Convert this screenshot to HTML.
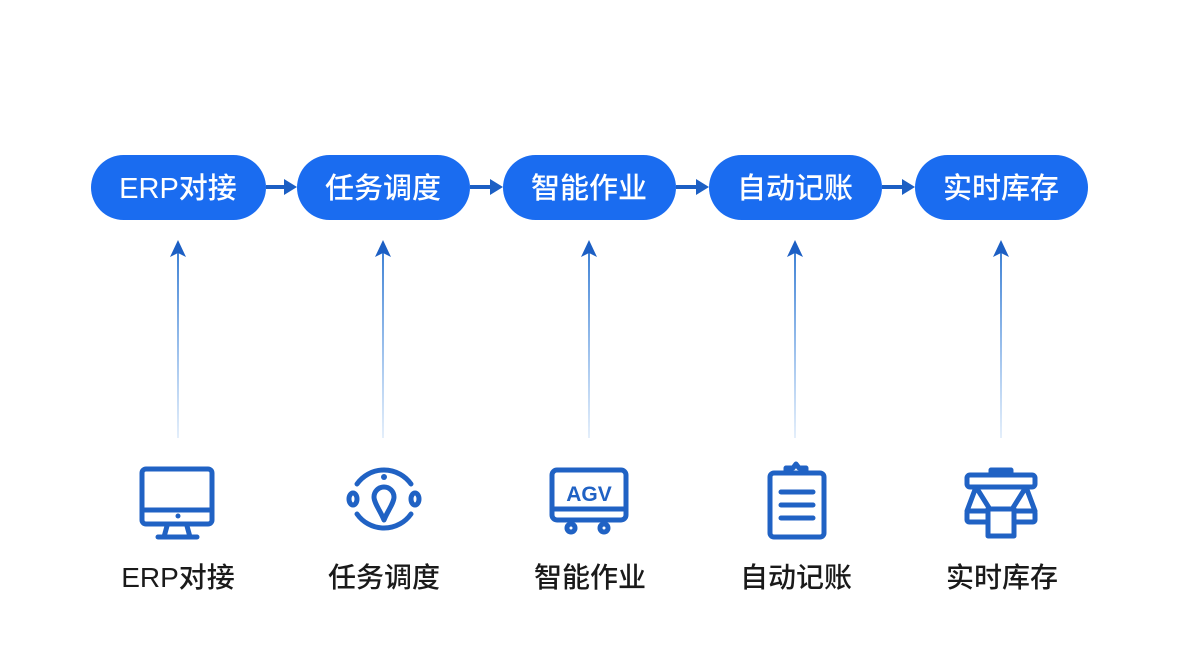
<!DOCTYPE html>
<html><head><meta charset="utf-8"><style>
body{margin:0;background:#fff;}
svg{display:block}
.p{font-family:"Liberation Sans","Noto Sans CJK SC",sans-serif;font-size:29px;font-weight:500;fill:#fff;text-anchor:middle}
.l{font-family:"Liberation Sans","Noto Sans CJK SC",sans-serif;font-size:28px;font-weight:500;fill:#1a1a1a;text-anchor:middle}
.i{fill:none;stroke:#2062c4;stroke-width:5;stroke-linejoin:round;stroke-linecap:round}
</style></head><body>
<svg width="1179" height="662" viewBox="0 0 1179 662">
<defs><linearGradient id="g" x1="0" y1="1" x2="0" y2="0"><stop offset="0" stop-color="#4a90e2" stop-opacity="0.15"/><stop offset="1" stop-color="#2a74d0" stop-opacity="0.9"/></linearGradient></defs>
<g fill="#1a6cf0">
<rect x="91" y="155" width="175" height="65" rx="32.5"/>
<rect x="297" y="155" width="173" height="65" rx="32.5"/>
<rect x="503" y="155" width="173" height="65" rx="32.5"/>
<rect x="709" y="155" width="173" height="65" rx="32.5"/>
<rect x="915" y="155" width="173" height="65" rx="32.5"/>
</g>
<text class="p" x="178" y="198">ERP对接</text>
<text class="p" x="383" y="198">任务调度</text>
<text class="p" x="589" y="198">智能作业</text>
<text class="p" x="795" y="198">自动记账</text>
<text class="p" x="1001" y="198">实时库存</text>
<g fill="#1c5fc4" stroke="#1c5fc4" stroke-width="4">
<line x1="266" y1="187" x2="285" y2="187"/><polygon stroke="none" points="284,179 297,187 284,195"/>
<line x1="470" y1="187" x2="491" y2="187"/><polygon stroke="none" points="490,179 503,187 490,195"/>
<line x1="676" y1="187" x2="697" y2="187"/><polygon stroke="none" points="696,179 709,187 696,195"/>
<line x1="882" y1="187" x2="903" y2="187"/><polygon stroke="none" points="902,179 915,187 902,195"/>
</g>
<g>
<rect x="177" y="252" width="2" height="186" fill="url(#g)"/><polygon fill="#1c5fc4" points="178,240 170,257 178,253 186,257"/>
<rect x="382" y="252" width="2" height="186" fill="url(#g)"/><polygon fill="#1c5fc4" points="383,240 375,257 383,253 391,257"/>
<rect x="588" y="252" width="2" height="186" fill="url(#g)"/><polygon fill="#1c5fc4" points="589,240 581,257 589,253 597,257"/>
<rect x="794" y="252" width="2" height="186" fill="url(#g)"/><polygon fill="#1c5fc4" points="795,240 787,257 795,253 803,257"/>
<rect x="1000" y="252" width="2" height="186" fill="url(#g)"/><polygon fill="#1c5fc4" points="1001,240 993,257 1001,253 1009,257"/>
</g>
<g class="i"><rect x="142" y="469" width="70" height="55" rx="4"/><line x1="142" y1="510" x2="212" y2="510"/><line x1="167" y1="526" x2="164" y2="537"/><line x1="187" y1="526" x2="190" y2="537"/><line x1="158" y1="537" x2="197" y2="537"/></g>
<circle cx="178" cy="516" r="2.5" fill="#2062c4"/>
<g class="i"><path d="M357 484 A33 33 0 0 1 411 484"/><path d="M357 514 A33 33 0 0 0 411 514"/><ellipse cx="353" cy="499" rx="4" ry="6"/><ellipse cx="415" cy="499" rx="4" ry="6"/><path d="M384 487 a10 10 0 0 1 10 10 c0 6 -7 15 -10 23 c-3 -8 -10 -17 -10 -23 a10 10 0 0 1 10 -10z"/></g>
<circle cx="384" cy="477" r="3" fill="#2062c4"/>
<g class="i"><rect x="552" y="470" width="74" height="50" rx="5"/><line x1="552" y1="509" x2="626" y2="509"/><circle cx="571" cy="528" r="4"/><circle cx="604" cy="528" r="4"/></g>
<text x="589" y="501" font-family="Liberation Sans,sans-serif" font-weight="bold" font-size="21" fill="#2062c4" text-anchor="middle">AGV</text>
<g class="i"><rect x="770" y="473" width="54" height="64" rx="4"/><path d="M786 473 v-5 h7 l3 -4 l3 4 h7 v5z"/><line x1="781" y1="492" x2="813" y2="492"/><line x1="781" y1="505" x2="813" y2="505"/><line x1="781" y1="518" x2="813" y2="518"/></g>
<g class="i"><rect x="967" y="475" width="68" height="12" rx="3"/><path d="M991 475 v-5 h20 v5"/><path d="M976 487 l-9 24 h24z M1026 487 l9 24 h-24z"/><rect x="967" y="511" width="68" height="11" rx="2"/><rect x="988" y="509" width="26" height="27" fill="#fff"/></g>
<text class="l" x="178" y="587">ERP对接</text>
<text class="l" x="384" y="587">任务调度</text>
<text class="l" x="590" y="587">智能作业</text>
<text class="l" x="796" y="587">自动记账</text>
<text class="l" x="1002" y="587">实时库存</text>
</svg>
</body></html>
